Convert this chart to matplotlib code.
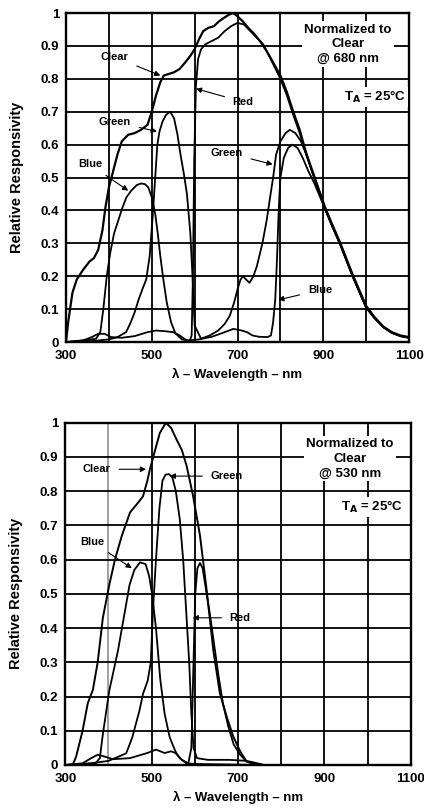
import numpy as np
import matplotlib
matplotlib.use('Agg')
import matplotlib.pyplot as plt

plt.rcParams['font.family'] = ['Liberation Sans', 'DejaVu Sans']

# ---- top chart: normalized to clear @ 680 nm ----
wl_clear1 = [300, 305, 315, 325, 340, 355, 365, 375, 385, 392, 400, 410, 420, 430, 445, 460, 475,
             490, 500, 510, 520, 528, 540, 552, 565, 578, 590, 600, 610, 620, 632, 645, 657, 668,
             680, 690, 700, 712, 725, 740, 755, 770, 785, 800, 815, 830, 845, 860, 880, 904, 920,
             940, 970, 1000, 1020, 1040, 1060, 1080, 1100]
clear1 = [0.0, 0.06, 0.15, 0.19, 0.22, 0.245, 0.255, 0.28, 0.34, 0.41, 0.47, 0.52, 0.57, 0.61, 0.63,
          0.635, 0.645, 0.66, 0.70, 0.75, 0.79, 0.81, 0.815, 0.82, 0.83, 0.85, 0.87, 0.89, 0.92,
          0.945, 0.955, 0.96, 0.975, 0.985, 0.995, 1.0, 0.99, 0.975, 0.955, 0.935, 0.91, 0.88,
          0.845, 0.81, 0.76, 0.70, 0.645, 0.575, 0.50, 0.41, 0.36, 0.30, 0.20, 0.11, 0.075, 0.047,
          0.03, 0.02, 0.015]

wl_red1 = [300, 340, 360, 375, 390, 405, 430, 460, 490, 510, 530, 550, 565, 578, 588, 593, 596, 599,
           603, 608, 615, 625, 640, 655, 670, 685, 700, 715, 730, 745, 760, 785, 800, 815, 830, 845,
           860, 880, 904, 920, 940, 970, 1000, 1020, 1040, 1060, 1080, 1100]
red1 = [0.0, 0.005, 0.015, 0.025, 0.025, 0.015, 0.013, 0.018, 0.03, 0.035, 0.033, 0.03, 0.02, 0.008,
        0.002, 0.02, 0.2, 0.55, 0.78, 0.86, 0.89, 0.905, 0.915, 0.925, 0.945, 0.96, 0.97, 0.965,
        0.945, 0.925, 0.905, 0.84, 0.80, 0.75, 0.69, 0.635, 0.57, 0.495, 0.405, 0.355, 0.295,
        0.195, 0.105, 0.072, 0.045, 0.028, 0.018, 0.013]

wl_green1 = [300, 360, 400, 420, 440, 450, 460, 469, 478, 487, 495, 502, 508, 513, 518, 525, 533,
             543, 552, 560, 567, 575, 582, 590, 595, 600, 615, 635, 655, 670, 682, 692, 700, 707,
             713, 720, 728, 737, 745, 758, 768, 776, 783, 790, 800, 812, 822, 835, 848, 862, 880,
             904, 920, 940, 970, 1000, 1020, 1040, 1060, 1080, 1100]
green1 = [0.0, 0.003, 0.008, 0.015, 0.03, 0.057, 0.09, 0.128, 0.16, 0.19, 0.26, 0.38, 0.5, 0.6,
          0.64, 0.67, 0.69, 0.70, 0.68, 0.63, 0.57, 0.51, 0.45, 0.33, 0.2, 0.05, 0.01, 0.02, 0.035,
          0.055, 0.08, 0.12, 0.16, 0.19, 0.2, 0.19, 0.18, 0.2, 0.23, 0.3, 0.37, 0.44, 0.5, 0.57,
          0.61, 0.635, 0.645, 0.635, 0.61, 0.565, 0.495, 0.405, 0.355, 0.295, 0.195, 0.105, 0.072,
          0.045, 0.028, 0.018, 0.013]

wl_blue1 = [300, 340, 370, 380, 387, 395, 403, 412, 422, 432, 441, 452, 465, 475, 484, 492, 500,
            508, 514, 520, 527, 535, 545, 555, 570, 585, 610, 640, 670, 690, 710, 722, 735, 750,
            770, 778, 783, 788, 792, 796, 800, 808, 818, 828, 840, 852, 865, 880, 904, 920, 940,
            970, 1000, 1020, 1040, 1060, 1080, 1100]
blue1 = [0.0, 0.005, 0.01, 0.03, 0.1, 0.2, 0.27, 0.33, 0.37, 0.41, 0.44, 0.46, 0.477, 0.482, 0.48,
         0.47, 0.44, 0.39, 0.33, 0.26, 0.19, 0.12, 0.06, 0.027, 0.008, 0.005, 0.008, 0.016, 0.03,
         0.04, 0.035, 0.03, 0.02, 0.016, 0.015, 0.02, 0.06, 0.13, 0.25, 0.4, 0.5, 0.56, 0.59, 0.6,
         0.59, 0.56, 0.52, 0.48, 0.405, 0.355, 0.295, 0.195, 0.105, 0.072, 0.045, 0.028, 0.018,
         0.013]

# ---- bottom chart: normalized to clear @ 530 nm ----
wl_clear2 = [300, 317, 325, 340, 352, 364, 375, 387, 402, 415, 431, 450, 469, 480, 490, 496, 508,
             519, 533, 545, 558, 570, 581, 596, 612, 627, 643, 658, 674, 689, 705, 720, 740, 760,
             1100]
clear2 = [0.0, 0.0, 0.024, 0.1, 0.18, 0.22, 0.3, 0.43, 0.527, 0.60, 0.67, 0.738, 0.767, 0.785,
          0.83, 0.864, 0.92, 0.97, 1.0, 0.985, 0.95, 0.92, 0.874, 0.786, 0.67, 0.515, 0.334, 0.21,
          0.14, 0.083, 0.04, 0.01, 0.002, 0.0, 0.0]

wl_blue2 = [300, 370, 380, 387, 402, 422, 441, 449, 460, 473, 486, 494, 501, 510, 520, 530, 542,
            555, 565, 580, 600, 650, 700, 760, 1100]
blue2 = [0.0, 0.005, 0.02, 0.09, 0.218, 0.334, 0.47, 0.527, 0.57, 0.592, 0.587, 0.553, 0.5, 0.4,
         0.25, 0.15, 0.08, 0.04, 0.02, 0.005, 0.003, 0.002, 0.001, 0.0, 0.0]

wl_green2 = [300, 360, 400, 441, 455, 472, 480, 491, 498, 503, 510, 518, 525, 532, 540, 548, 556,
             565, 573, 580, 587, 592, 597, 605, 630, 680, 720, 745, 760, 1100]
green2 = [0.0, 0.005, 0.012, 0.034, 0.08, 0.16, 0.208, 0.247, 0.3, 0.45, 0.6, 0.75, 0.83, 0.848,
          0.85, 0.84, 0.8, 0.72, 0.6, 0.45, 0.3, 0.15, 0.05, 0.02, 0.015, 0.015, 0.012, 0.005, 0.0,
          0.0]

wl_red2 = [300, 340, 360, 375, 390, 410, 450, 490, 510, 520, 530, 545, 555, 570, 585, 592, 597,
           601, 606, 612, 618, 625, 635, 645, 655, 665, 678, 690, 705, 720, 740, 760, 1100]
red2 = [0.0, 0.005, 0.02, 0.03, 0.025, 0.017, 0.02, 0.035, 0.045, 0.04, 0.035, 0.04, 0.035, 0.015,
        0.005, 0.05, 0.3, 0.5, 0.575, 0.59, 0.575, 0.52, 0.44, 0.35, 0.26, 0.18, 0.11, 0.06, 0.03,
        0.01, 0.003, 0.0, 0.0]

x_ticks = [300, 500, 700, 900, 1100]
y_ticks = [0, 0.1, 0.2, 0.3, 0.4, 0.5, 0.6, 0.7, 0.8, 0.9, 1]
y_labels = ['0', '0.1', '0.2', '0.3', '0.4', '0.5', '0.6', '0.7', '0.8', '0.9', '1']

fig = plt.figure(figsize=(4.24, 8.09), dpi=100)
ax1 = fig.add_axes([0.1557, 0.5772, 0.809, 0.4067])
ax2 = fig.add_axes([0.154, 0.0544, 0.8146, 0.4231])

def setup(ax, gray400=False):
    ax.set_xlim(300, 1100)
    ax.set_ylim(0, 1)
    for xv in range(400, 1100, 100):
        col = '#999999' if (gray400 and xv == 400) else 'black'
        ax.axvline(xv, color=col, lw=1.3, zorder=1)
    for yv in y_ticks[1:-1]:
        ax.axhline(yv, color='black', lw=1.3, zorder=1)
    for s in ax.spines.values():
        s.set_linewidth(1.7)
    ax.set_xticks(x_ticks)
    ax.set_xticklabels([str(v) for v in x_ticks], fontsize=9.5, fontweight='bold')
    ax.set_yticks(y_ticks)
    ax.set_yticklabels(y_labels, fontsize=9.5, fontweight='bold')
    ax.tick_params(axis='x', length=0, pad=6)
    ax.tick_params(axis='y', length=0, pad=5)
    ax.set_xlabel('λ – Wavelength – nm', fontsize=9.5, fontweight='bold', labelpad=4)
    ax.set_ylabel('Relative Responsivity', fontsize=10.5, fontweight='bold', labelpad=12)

def label(ax, txt, xy, xytext):
    ax.annotate(txt, xy=xy, xytext=xytext, fontsize=8, fontweight='bold',
                ha='center', va='center', zorder=5,
                arrowprops=dict(arrowstyle='-|>', color='black', lw=0.8,
                                mutation_scale=8, shrinkA=4, shrinkB=0))

box = dict(facecolor='white', edgecolor='none', pad=1.5)

setup(ax1)
ax1.plot(wl_clear1, clear1, color='black', lw=1.6, zorder=3)
ax1.plot(wl_red1, red1, color='black', lw=1.3, zorder=3)
ax1.plot(wl_green1, green1, color='black', lw=1.3, zorder=3)
ax1.plot(wl_blue1, blue1, color='black', lw=1.3, zorder=3)
ax1.text(958, 0.905, 'Normalized to\nClear\n@ 680 nm', fontsize=9.5, fontweight='bold',
         ha='center', va='center', linespacing=1.3, bbox=box, zorder=4)
ax1.text(1021, 0.745, r'T$_\mathbf{A}$ = 25°C', fontsize=9.5, fontweight='bold',
         ha='center', va='center', bbox=box, zorder=4)
label(ax1, 'Clear', (520, 0.81), (414, 0.866))
label(ax1, 'Red', (603, 0.77), (713, 0.73))
label(ax1, 'Green', (512, 0.64), (414, 0.669))
label(ax1, 'Blue', (445, 0.46), (356, 0.54))
label(ax1, 'Green', (782, 0.54), (675, 0.575))
label(ax1, 'Blue', (795, 0.128), (892, 0.158))

setup(ax2, gray400=True)
ax2.plot(wl_clear2, clear2, color='black', lw=1.4, zorder=3)
ax2.plot(wl_red2, red2, color='black', lw=1.3, zorder=3)
ax2.plot(wl_green2, green2, color='black', lw=1.3, zorder=3)
ax2.plot(wl_blue2, blue2, color='black', lw=1.3, zorder=3)
ax2.text(959, 0.895, 'Normalized to\nClear\n@ 530 nm', fontsize=9.5, fontweight='bold',
         ha='center', va='center', linespacing=1.3, bbox=box, zorder=4)
ax2.text(1011, 0.754, r'T$_\mathbf{A}$ = 25°C', fontsize=9.5, fontweight='bold',
         ha='center', va='center', bbox=box, zorder=4)
label(ax2, 'Clear', (487, 0.864), (373, 0.864))
label(ax2, 'Green', (542, 0.844), (674, 0.844))
label(ax2, 'Blue', (454, 0.575), (362, 0.652))
label(ax2, 'Red', (595, 0.43), (705, 0.43))

fig.savefig('out.png', dpi=100)
